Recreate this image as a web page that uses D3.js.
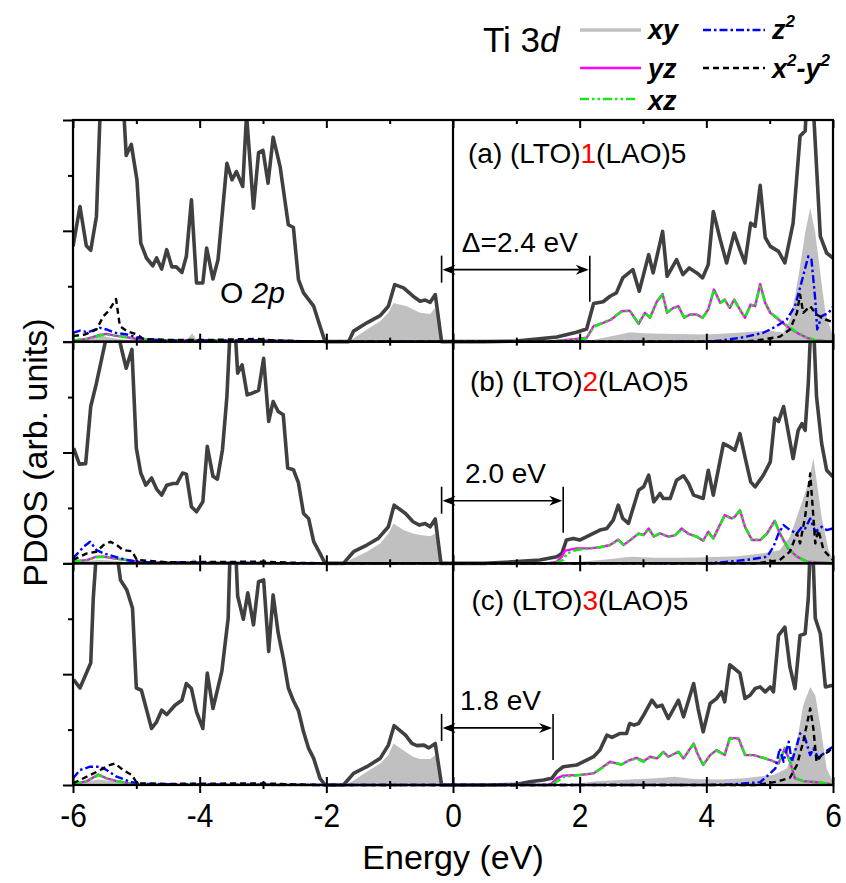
<!DOCTYPE html>
<html><head><meta charset="utf-8">
<script src="https://cdn.jsdelivr.net/npm/d3@7"></script>
<style>body{margin:0;background:#fff} svg{display:block} text{font-family:"Liberation Sans",Arial,Helvetica,sans-serif;fill:#000}</style>
</head><body><svg id="c" width="846" height="883"></svg>
<script>
// ---------------- data ----------------
const xTicks = [-6,-4,-2,0,2,4,6];
const xMinorTicks = [-5,-3,-1,1,3,5];
const yMajorTicks = [0,2,4];
const yMinorTicks = [1,3];
const panelTags = ["(a)","(b)","(c)"];
const layerCounts = ["1","2","3"];
const gapLabels = ["\u0394=2.4 eV","2.0 eV","1.8 eV"];
const gapStart = -0.18;
const gapEnd = [2.16, 1.74, 1.58];
const arrowLevel = [1.30, 1.13, 1.03];
const gapLabelE = [0.14, 0.19, 0.11];
const legendNames = ["xy","yz","xz","z2","x2-y2"];

const totA = [[-6.0,1.72],[-5.89,2.44],[-5.79,1.73],[-5.72,1.65],[-5.63,2.26],[-5.57,4.2],[-5.5,5.5],[-5.35,6.0],[-5.22,4.6],[-5.16,3.36],[-5.08,3.56],[-4.99,2.92],[-4.93,1.78],[-4.84,1.51],[-4.74,1.37],[-4.68,1.51],[-4.60,1.31],[-4.52,1.66],[-4.44,1.35],[-4.37,1.35],[-4.28,1.25],[-4.21,1.54],[-4.13,2.56],[-4.05,1.06],[-3.95,1.06],[-3.89,1.69],[-3.79,1.13],[-3.71,1.48],[-3.57,3.22],[-3.49,2.92],[-3.42,3.07],[-3.32,2.80],[-3.26,4.1],[-3.15,2.41],[-3.07,3.41],[-3.00,3.45],[-2.92,2.86],[-2.84,3.69],[-2.73,3.16],[-2.60,2.11],[-2.52,2.06],[-2.44,1.12],[-2.36,0.88],[-2.20,0.64],[-2.10,0.28],[-2.02,0],[-1.65,0],[-1.57,0.19],[-1.36,0.34],[-1.15,0.47],[-1.02,0.64],[-0.92,1.03],[-0.78,0.97],[-0.63,0.82],[-0.52,0.73],[-0.44,0.75],[-0.36,0.71],[-0.28,0.85],[-0.18,0],[0.5,0],[1.0,0.01],[1.64,0.085],[1.95,0.17],[2.11,0.23],[2.22,0.69],[2.37,0.72],[2.48,0.82],[2.58,0.88],[2.68,1.15],[2.84,1.30],[2.94,0.91],[3.09,1.57],[3.16,1.24],[3.31,1.99],[3.38,1.18],[3.53,1.48],[3.63,1.21],[3.73,1.33],[3.85,1.24],[3.94,1.15],[4.03,1.39],[4.11,2.35],[4.22,1.84],[4.32,1.42],[4.44,1.96],[4.53,1.66],[4.61,1.42],[4.70,2.14],[4.77,2.08],[4.85,2.82],[4.93,1.88],[5.01,1.72],[5.14,1.63],[5.24,1.42],[5.37,2.14],[5.48,3.71],[5.56,3.80],[5.60,4.6],[5.64,5.5],[5.70,4.0],[5.80,1.90],[5.90,1.60],[6.0,1.51]];
const xyA = [[-6,0.03],[-5.75,0.06],[-5.6,0.13],[-5.45,0.08],[-5.2,0.04],[-4.9,0.02],[-4.2,0.03],[-4.12,0.15],[-4.05,0.03],[-3.5,0.04],[-3.0,0.05],[-2.8,0.03],[-2.3,0.01],[-2.0,0],[-1.65,0],[-1.36,0.22],[-1.15,0.37],[-1.02,0.52],[-0.94,0.70],[-0.73,0.64],[-0.52,0.52],[-0.36,0.50],[-0.28,0.61],[-0.19,0],[1.5,0],[2.2,0.03],[2.5,0.1],[2.8,0.17],[3.0,0.15],[3.5,0.14],[4.0,0.13],[4.5,0.16],[5.0,0.2],[5.22,0.16],[5.32,0.40],[5.40,0.82],[5.48,1.36],[5.56,1.96],[5.64,2.41],[5.72,1.96],[5.80,1.24],[5.88,0.52],[5.98,0.16],[6.0,0.1]];
const yzA = [[-6,0.02],[-5.78,0.05],[-5.58,0.12],[-5.47,0.14],[-5.34,0.11],[-5.15,0.08],[-4.94,0.04],[-4.5,0.02],[-3.0,0.02],[-2.0,0],[1.5,0],[1.95,0.05],[2.11,0.07],[2.22,0.28],[2.37,0.34],[2.50,0.40],[2.66,0.55],[2.79,0.56],[2.93,0.32],[3.03,0.52],[3.11,0.43],[3.22,0.73],[3.31,0.86],[3.38,0.52],[3.48,0.61],[3.56,0.64],[3.65,0.43],[3.74,0.49],[3.85,0.49],[3.94,0.43],[4.03,0.58],[4.12,0.94],[4.22,0.70],[4.29,0.76],[4.37,0.61],[4.44,0.76],[4.53,0.58],[4.61,0.43],[4.70,0.67],[4.77,0.64],[4.85,1.04],[4.93,0.70],[5.01,0.52],[5.14,0.40],[5.27,0.28],[5.43,0.16],[5.59,0.07],[5.74,0.02],[6.0,0]];
const xzA = [[-6,0.02],[-5.78,0.05],[-5.58,0.11],[-5.47,0.13],[-5.34,0.11],[-5.15,0.08],[-4.94,0.04],[-4.5,0.02],[-3.0,0.02],[-2.0,0],[1.5,0],[1.95,0.04],[2.11,0.06],[2.22,0.27],[2.37,0.34],[2.50,0.41],[2.66,0.54],[2.79,0.56],[2.93,0.33],[3.03,0.52],[3.11,0.44],[3.22,0.72],[3.31,0.85],[3.38,0.53],[3.48,0.61],[3.56,0.63],[3.65,0.44],[3.74,0.49],[3.85,0.48],[3.94,0.43],[4.03,0.57],[4.12,0.93],[4.22,0.70],[4.29,0.75],[4.37,0.61],[4.44,0.75],[4.53,0.58],[4.61,0.44],[4.70,0.66],[4.77,0.64],[4.85,1.02],[4.93,0.70],[5.01,0.53],[5.14,0.41],[5.27,0.29],[5.43,0.17],[5.59,0.07],[5.74,0.02],[6.0,0]];
const z2A = [[-6,0.16],[-5.89,0.20],[-5.76,0.17],[-5.58,0.25],[-5.47,0.22],[-5.34,0.16],[-5.15,0.13],[-4.99,0.08],[-4.84,0.04],[-4.5,0.02],[-3,0.02],[-2,0],[4.0,0],[4.22,0.02],[4.59,0.08],[4.90,0.16],[5.11,0.28],[5.27,0.40],[5.40,0.64],[5.50,1.06],[5.61,1.54],[5.66,1.48],[5.72,0.76],[5.75,0.22],[5.82,0.46],[5.93,0.52],[6.0,0.63]];
const x2A = [[-6,0.10],[-5.81,0.13],[-5.63,0.22],[-5.52,0.46],[-5.44,0.55],[-5.39,0.64],[-5.32,0.77],[-5.26,0.28],[-5.15,0.19],[-4.99,0.13],[-4.89,0.05],[-4.5,0.03],[-3.9,0.03],[-3.5,0.04],[-3.1,0.05],[-2.9,0.03],[-2.5,0.01],[-2.0,0],[4.6,0],[4.90,0.04],[5.16,0.09],[5.32,0.22],[5.43,0.52],[5.48,0.85],[5.53,0.52],[5.64,0.64],[5.74,0.49],[5.88,0.40],[6.0,0.35]];

const totB = [[-5.99,2.08],[-5.90,1.79],[-5.80,1.80],[-5.72,2.83],[-5.63,3.25],[-5.54,3.73],[-5.47,4.1],[-5.38,4.6],[-5.28,4.1],[-5.23,3.85],[-5.16,3.52],[-5.07,3.86],[-5.0,2.08],[-4.93,1.63],[-4.85,1.41],[-4.76,1.54],[-4.68,1.34],[-4.60,1.23],[-4.52,1.41],[-4.42,1.44],[-4.36,1.44],[-4.27,1.63],[-4.21,1.61],[-4.13,1.02],[-4.05,0.93],[-3.95,1.11],[-3.88,2.11],[-3.79,1.57],[-3.72,1.52],[-3.64,2.05],[-3.57,3.01],[-3.52,4.2],[-3.48,5.0],[-3.44,4.2],[-3.40,3.43],[-3.33,3.58],[-3.25,3.04],[-3.17,3.07],[-3.07,3.12],[-2.99,3.70],[-2.91,2.56],[-2.84,2.92],[-2.76,2.74],[-2.68,2.68],[-2.61,1.72],[-2.52,1.69],[-2.44,1.45],[-2.36,0.90],[-2.28,0.81],[-2.20,0.39],[-2.10,0.18],[-2.02,0],[-1.73,0],[-1.57,0.21],[-1.36,0.33],[-1.18,0.45],[-1.02,0.66],[-0.93,1.05],[-0.75,0.90],[-0.63,0.75],[-0.53,0.69],[-0.44,0.72],[-0.36,0.66],[-0.28,0.80],[-0.19,0],[0.5,0],[1.0,0.03],[1.37,0.06],[1.64,0.12],[1.72,0.18],[1.79,0.42],[1.90,0.45],[2.00,0.42],[2.16,0.51],[2.32,0.60],[2.43,0.63],[2.53,0.78],[2.61,1.05],[2.68,0.81],[2.77,0.72],[2.93,1.32],[3.01,1.38],[3.09,1.59],[3.17,1.11],[3.27,1.26],[3.32,1.17],[3.43,1.17],[3.53,1.50],[3.64,1.58],[3.72,1.44],[3.80,1.23],[3.95,1.17],[4.03,1.68],[4.11,1.23],[4.27,2.16],[4.37,2.10],[4.45,2.04],[4.53,2.34],[4.61,1.92],[4.70,1.47],[4.77,1.38],[4.90,1.59],[5.01,1.83],[5.08,2.62],[5.14,2.56],[5.22,2.83],[5.37,1.89],[5.45,2.40],[5.51,2.52],[5.56,2.40],[5.61,3.25],[5.65,4.3],[5.70,4.1],[5.74,3.01],[5.82,2.17],[5.90,1.68],[6.0,1.56]];
const xyB = [[-6,0.02],[-5.8,0.04],[-5.6,0.06],[-5.4,0.05],[-5.2,0.03],[-4.9,0.01],[-4.15,0.02],[-4.1,0.08],[-4.0,0.02],[-3.0,0.03],[-2.5,0.01],[-2.0,0],[-1.73,0],[-1.36,0.21],[-1.15,0.36],[-1.02,0.54],[-0.94,0.72],[-0.78,0.60],[-0.63,0.54],[-0.52,0.51],[-0.36,0.49],[-0.28,0.54],[-0.19,0],[1.6,0],[2.0,0.03],[2.5,0.08],[2.8,0.12],[3.2,0.1],[3.6,0.1],[4.0,0.11],[4.5,0.13],[4.9,0.18],[5.16,0.24],[5.32,0.48],[5.43,0.84],[5.53,1.17],[5.61,1.44],[5.69,1.90],[5.74,1.50],[5.82,0.84],[5.93,0.24],[6.0,0.06]];
const yzB = [[-6,0.03],[-5.78,0.06],[-5.63,0.12],[-5.52,0.12],[-5.36,0.09],[-5.15,0.06],[-4.94,0.02],[-4.0,0.01],[-2.0,0],[1.5,0],[1.64,0.03],[1.72,0.12],[1.77,0.23],[1.95,0.27],[2.16,0.27],[2.32,0.29],[2.48,0.33],[2.61,0.43],[2.69,0.33],[2.79,0.41],[2.93,0.54],[3.01,0.51],[3.09,0.63],[3.17,0.48],[3.27,0.54],[3.40,0.48],[3.51,0.51],[3.61,0.63],[3.72,0.53],[3.85,0.48],[3.95,0.41],[4.03,0.57],[4.11,0.45],[4.29,0.87],[4.40,0.81],[4.45,0.84],[4.53,0.96],[4.61,0.66],[4.72,0.42],[4.85,0.42],[4.96,0.54],[5.08,0.77],[5.16,0.54],[5.29,0.27],[5.43,0.12],[5.59,0.03],[6.0,0]];
const xzB = [[-6,0.03],[-5.78,0.06],[-5.63,0.11],[-5.52,0.12],[-5.36,0.09],[-5.15,0.06],[-4.94,0.02],[-4.0,0.01],[-2.0,0],[1.5,0],[1.64,0.02],[1.74,0.06],[1.80,0.18],[1.95,0.24],[2.16,0.27],[2.32,0.29],[2.48,0.33],[2.61,0.42],[2.69,0.34],[2.79,0.41],[2.93,0.53],[3.01,0.51],[3.09,0.62],[3.17,0.49],[3.27,0.54],[3.40,0.48],[3.51,0.51],[3.61,0.62],[3.72,0.53],[3.85,0.48],[3.95,0.41],[4.03,0.56],[4.11,0.45],[4.29,0.86],[4.40,0.81],[4.45,0.84],[4.53,0.95],[4.61,0.66],[4.72,0.43],[4.85,0.42],[4.96,0.54],[5.08,0.76],[5.16,0.55],[5.29,0.28],[5.43,0.12],[5.59,0.03],[6.0,0]];
const z2B = [[-6,0.09],[-5.83,0.30],[-5.73,0.39],[-5.63,0.24],[-5.52,0.18],[-5.34,0.12],[-5.15,0.06],[-4.94,0.02],[-4.0,0.01],[-2,0],[4.0,0],[4.37,0.03],[4.69,0.07],[4.96,0.12],[5.06,0.30],[5.14,0.54],[5.22,0.69],[5.32,0.60],[5.43,0.54],[5.51,0.66],[5.56,0.63],[5.64,0.81],[5.72,0.57],[5.82,0.66],[5.90,0.60],[6.0,0.63]];
const x2B = [[-6,0.06],[-5.78,0.18],[-5.63,0.21],[-5.52,0.33],[-5.41,0.39],[-5.31,0.33],[-5.21,0.24],[-5.07,0.22],[-4.99,0.06],[-4.5,0.02],[-3.0,0.03],[-2.5,0.01],[-2.0,0],[4.8,0],[5.16,0.06],[5.32,0.21],[5.43,0.54],[5.48,0.36],[5.56,0.84],[5.64,1.62],[5.69,0.84],[5.72,0.36],[5.77,0.60],[5.85,0.24],[6.0,0.06]];

const totC = [[-5.99,1.90],[-5.89,1.75],[-5.72,2.20],[-5.68,3.37],[-5.63,4.2],[-5.5,5.5],[-5.35,5.0],[-5.31,4.2],[-5.25,3.70],[-5.15,3.52],[-5.06,3.19],[-5.0,1.75],[-4.92,1.71],[-4.76,1.02],[-4.68,1.14],[-4.60,1.35],[-4.52,1.27],[-4.39,1.44],[-4.28,1.53],[-4.21,1.83],[-4.13,1.74],[-4.05,1.32],[-3.95,1.02],[-3.88,2.02],[-3.79,1.38],[-3.65,2.05],[-3.55,3.01],[-3.52,4.2],[-3.48,4.8],[-3.43,4.2],[-3.40,3.41],[-3.31,2.99],[-3.24,3.47],[-3.15,2.89],[-3.07,3.67],[-2.99,3.70],[-2.91,2.41],[-2.84,3.43],[-2.76,2.74],[-2.68,2.29],[-2.60,1.75],[-2.52,1.52],[-2.44,1.34],[-2.36,0.96],[-2.28,0.66],[-2.20,0.48],[-2.10,0.12],[-2.02,0],[-1.73,0],[-1.57,0.21],[-1.36,0.33],[-1.15,0.48],[-1.02,0.72],[-0.93,1.07],[-0.75,0.90],[-0.65,0.75],[-0.57,0.71],[-0.46,0.72],[-0.38,0.67],[-0.28,0.75],[-0.18,0],[0.5,0],[1.0,0.01],[1.21,0.06],[1.43,0.09],[1.56,0.12],[1.64,0.24],[1.74,0.33],[1.95,0.36],[2.11,0.45],[2.22,0.51],[2.32,0.63],[2.43,0.90],[2.51,0.86],[2.64,0.93],[2.74,0.93],[2.79,1.11],[2.86,1.08],[2.93,1.11],[3.01,1.26],[3.14,1.53],[3.22,1.41],[3.30,1.44],[3.40,1.20],[3.56,1.53],[3.64,1.23],[3.80,1.83],[3.87,1.38],[3.95,0.96],[4.06,1.47],[4.16,1.56],[4.24,1.68],[4.29,1.50],[4.37,2.17],[4.53,2.02],[4.61,1.56],[4.69,1.62],[4.77,1.74],[4.85,1.77],[4.93,1.68],[5.01,1.77],[5.06,1.68],[5.14,2.70],[5.24,2.85],[5.32,2.13],[5.40,1.74],[5.48,2.70],[5.56,2.73],[5.61,3.37],[5.64,4.3],[5.68,4.3],[5.72,3.01],[5.80,2.73],[5.88,1.77],[6.0,1.80]];
const xyC = [[-6,0.03],[-5.8,0.06],[-5.6,0.10],[-5.4,0.07],[-5.2,0.03],[-4.9,0.01],[-4.15,0.02],[-4.1,0.06],[-4.0,0.02],[-3.0,0.03],[-2.5,0.01],[-2.0,0],[-1.68,0],[-1.36,0.24],[-1.15,0.39],[-1.02,0.54],[-0.94,0.75],[-0.75,0.60],[-0.63,0.51],[-0.52,0.47],[-0.36,0.47],[-0.28,0.54],[-0.19,0],[1.6,0],[2.0,0.03],[2.3,0.07],[2.8,0.1],[3.2,0.12],[3.5,0.15],[3.8,0.11],[4.2,0.1],[4.6,0.12],[5.06,0.18],[5.27,0.30],[5.43,0.78],[5.53,1.44],[5.64,1.77],[5.72,1.62],[5.80,1.08],[5.90,0.30],[6.0,0.06]];
const yzC = [[-6,0.01],[-5.78,0.07],[-5.60,0.19],[-5.47,0.12],[-5.31,0.07],[-5.10,0.03],[-4.9,0.01],[-2,0],[1.5,0],[1.56,0.03],[1.64,0.12],[1.74,0.17],[2.0,0.18],[2.22,0.21],[2.37,0.33],[2.48,0.42],[2.58,0.39],[2.66,0.37],[2.79,0.45],[2.90,0.49],[3.01,0.43],[3.11,0.51],[3.22,0.48],[3.32,0.60],[3.40,0.51],[3.56,0.60],[3.64,0.48],[3.80,0.75],[3.87,0.54],[3.95,0.36],[4.06,0.54],[4.16,0.63],[4.29,0.54],[4.37,0.85],[4.51,0.84],[4.61,0.54],[4.74,0.54],[4.90,0.49],[5.01,0.45],[5.14,0.39],[5.24,0.66],[5.32,0.42],[5.40,0.12],[5.53,0.07],[5.74,0.05],[6.0,0.01]];
const xzC = [[-6,0.01],[-5.78,0.07],[-5.60,0.18],[-5.47,0.12],[-5.31,0.07],[-5.10,0.03],[-4.9,0.01],[-2,0],[1.5,0],[1.58,0.02],[1.66,0.08],[1.76,0.15],[2.0,0.18],[2.22,0.21],[2.37,0.32],[2.48,0.41],[2.58,0.39],[2.66,0.37],[2.79,0.45],[2.90,0.48],[3.01,0.42],[3.11,0.50],[3.22,0.48],[3.32,0.59],[3.40,0.51],[3.56,0.60],[3.64,0.48],[3.80,0.74],[3.87,0.54],[3.95,0.37],[4.06,0.54],[4.16,0.62],[4.29,0.54],[4.37,0.84],[4.51,0.83],[4.61,0.55],[4.74,0.54],[4.90,0.49],[5.01,0.45],[5.14,0.39],[5.24,0.67],[5.32,0.44],[5.40,0.13],[5.53,0.07],[5.74,0.05],[6.0,0.01]];
const z2C = [[-6,0.12],[-5.89,0.27],[-5.73,0.33],[-5.57,0.33],[-5.47,0.27],[-5.31,0.15],[-5.10,0.06],[-4.94,0.02],[-4.0,0.01],[-2,0],[4.0,0],[4.37,0.01],[4.85,0.05],[4.98,0.18],[5.09,0.30],[5.16,0.66],[5.22,0.42],[5.30,0.78],[5.35,0.42],[5.43,0.72],[5.48,0.93],[5.56,0.84],[5.64,0.54],[5.69,0.66],[5.77,0.48],[5.88,0.60],[6.0,0.69]];
const x2C = [[-6,0.03],[-5.78,0.15],[-5.57,0.27],[-5.44,0.35],[-5.34,0.39],[-5.21,0.27],[-5.07,0.18],[-4.99,0.03],[-4.5,0.02],[-3.0,0.03],[-2.5,0.01],[-2,0],[4.8,0],[5.11,0.06],[5.32,0.13],[5.43,0.36],[5.53,0.78],[5.64,1.38],[5.69,1.02],[5.74,0.42],[5.82,0.54],[5.93,0.60],[6.0,0.69]];

const panels = [
  {tot: totA, xy: xyA, yz: yzA, xz: xzA, z2: z2A, x2: x2A},
  {tot: totB, xy: xyB, yz: yzB, xz: xzB, z2: z2B, x2: x2B},
  {tot: totC, xy: xyC, yz: yzC, xz: xzC, z2: z2C, x2: x2C}
];

// ---------------- layout / style ----------------
const L = 73, R = 833, T = 120, B = 785;
const PH = (B - T) / 3;
const labelDy = [43, 49.5, 46.5];
const labelX = [468, 470, 471.5];
const sty = {
  tot: {stroke: "#404040", w: 3.6, dash: null},
  yz:  {stroke: "#ff00ff", w: 2.4, dash: null},
  xz:  {stroke: "#18e818", w: 2.6, dash: "9,3,2.5,3,2.5,3"},
  z2:  {stroke: "#0000ff", w: 2.4, dash: "8,3,2.5,3"},
  x2:  {stroke: "#000000", w: 2.4, dash: "6,4"}
};
const xyFill = "#c0c0c0";

const svg = d3.select("#c");
const x = d3.scaleLinear().domain([-6, 6]).range([L, R]);

function condense(sel, f) {
  sel.each(function() {
    const l = this.getComputedTextLength();
    this.setAttribute("textLength", l * f);
    this.setAttribute("lengthAdjust", "spacingAndGlyphs");
  });
}

const defs = svg.append("defs");

panels.forEach((p, i) => {
  const top = T + i * PH, bot = top + PH;
  const y = d3.scaleLinear().domain([0, 4]).range([bot, top]);
  defs.append("clipPath").attr("id", "clip" + i)
    .append("rect").attr("x", L).attr("y", top).attr("width", R - L).attr("height", PH + 2.5);
  const g = svg.append("g").attr("clip-path", `url(#clip${i})`);
  const line = d3.line().x(d => x(d[0])).y(d => y(d[1]));
  const area = d3.area().x(d => x(d[0])).y0(y(0)).y1(d => y(d[1]));

  g.append("path").datum(p.xy).attr("d", area).attr("fill", xyFill);
  ["tot", "yz", "xz", "z2", "x2"].forEach(k => {
    const s = sty[k];
    g.append("path").datum(p[k]).attr("d", line)
      .attr("fill", "none").attr("stroke", s.stroke).attr("stroke-width", s.w)
      .attr("stroke-linejoin", "round")
      .attr("stroke-dasharray", s.dash);
  });

  // left axis ticks
  const ya = svg.append("g").attr("transform", `translate(${L},0)`);
  ya.call(d3.axisLeft(y).tickValues(yMajorTicks).tickSize(10).tickFormat(""));
  ya.append("g").call(d3.axisLeft(y).tickValues(yMinorTicks).tickSize(5).tickFormat(""));
  ya.selectAll(".domain").remove();
  ya.selectAll("line").attr("stroke", "#000").attr("stroke-width", 2);

  // x ticks at the top of the panel (inward)
  const xt = svg.append("g").attr("transform", `translate(0,${top})`);
  xt.call(d3.axisBottom(x).tickValues(xTicks).tickSize(8).tickFormat(""));
  xt.append("g").call(d3.axisBottom(x).tickValues(xMinorTicks).tickSize(4).tickFormat(""));
  // x ticks at bottom of the panel (inward, up)
  const xb = svg.append("g").attr("transform", `translate(0,${bot})`);
  xb.call(d3.axisTop(x).tickValues(xTicks).tickSize(8).tickFormat(""));
  xb.append("g").call(d3.axisTop(x).tickValues(xMinorTicks).tickSize(4).tickFormat(""));
  [xt, xb].forEach(a => { a.selectAll(".domain").remove(); a.selectAll("line").attr("stroke", "#000").attr("stroke-width", 2); });

  // frame
  svg.append("rect").attr("x", L).attr("y", top).attr("width", R - L).attr("height", PH)
    .attr("fill", "none").attr("stroke", "#000").attr("stroke-width", 2.2);

  // panel label
  const t = svg.append("text").attr("x", labelX[i]).attr("y", top + labelDy[i]).attr("font-size", 28);
  t.append("tspan").text(panelTags[i] + " (LTO)");
  t.append("tspan").style("fill", "#ff0000").text(layerCounts[i]);
  t.append("tspan").text("(LAO)5");

  // gap annotation
  const ay = y(arrowLevel[i]);
  const x0 = x(gapStart), x1 = x(gapEnd[i]);
  const ann = svg.append("g").attr("stroke", "#000").attr("stroke-width", 1.6);
  ann.append("line").attr("x1", x0).attr("x2", x0).attr("y1", ay - 14).attr("y2", ay + 13);
  ann.append("line").attr("x1", x1).attr("x2", x1).attr("y1", ay - 14).attr("y2", ay + 32);
  ann.append("line").attr("x1", x0 + 4).attr("x2", x1 - 4).attr("y1", ay).attr("y2", ay);
  const head = (tx, dir) => `M${tx},${ay} L${tx - dir * 13},${ay - 5} L${tx - dir * 9},${ay} L${tx - dir * 13},${ay + 5} Z`;
  svg.append("path").attr("d", head(x0 + 1, -1)).attr("fill", "#000");
  svg.append("path").attr("d", head(x1 - 1, 1)).attr("fill", "#000");
  svg.append("text").attr("x", x(gapLabelE[i])).attr("y", ay - 18).attr("font-size", 28).text(gapLabels[i]);

  if (i === 0) {
    const o = svg.append("text").attr("x", x(-3.68)).attr("y", y(0.69)).attr("font-size", 30);
    o.append("tspan").text("O ");
    o.append("tspan").attr("font-style", "italic").text("2p");
  }
});

// Fermi level line at 0
svg.append("line").attr("x1", x(0)).attr("x2", x(0)).attr("y1", T).attr("y2", B)
  .attr("stroke", "#000").attr("stroke-width", 2.2);

// bottom axis: outward ticks and labels
const xax = svg.append("g").attr("transform", `translate(0,${B})`);
xax.call(d3.axisBottom(x).tickValues(xTicks).tickSize(8).tickPadding(10).tickFormat(d => d < 0 ? "-" + Math.abs(d) : String(d)));
xax.selectAll("text").attr("font-size", 34).attr("font-family", "Liberation Sans, Arial, sans-serif").attr("fill", "#000");
condense(xax.selectAll("text"), 0.88);
const xaxMinor = svg.append("g").attr("transform", `translate(0,${B})`);
xaxMinor.call(d3.axisBottom(x).tickValues(xMinorTicks).tickSize(4).tickFormat(""));
[xax, xaxMinor].forEach(a => { a.selectAll(".domain").remove(); a.selectAll("line").attr("stroke", "#000").attr("stroke-width", 2); });

// axis titles
svg.append("text").attr("x", x(0)).attr("y", 869).attr("text-anchor", "middle").attr("font-size", 34).text("Energy (eV)");
svg.append("text").attr("transform", `translate(47,${(T + B) / 2}) rotate(-90)`).attr("text-anchor", "middle")
  .attr("font-size", 34).text("PDOS (arb. units)");

// legend
const lg = svg.append("g");
const ti = lg.append("text").attr("x", 483).attr("y", 52).attr("font-size", 35);
ti.append("tspan").text("Ti 3");
ti.append("tspan").attr("font-style", "italic").text("d");
const legendItems = [
  {key: "xy", x1: 580, x2: 641, ly: 30, tx: 648, ty: 39},
  {key: "yz", x1: 580, x2: 641, ly: 68, tx: 648, ty: 78},
  {key: "xz", x1: 580, x2: 636, ly: 99, tx: 648, ty: 110},
  {key: "z2", x1: 703, x2: 765, ly: 30, tx: 772, ty: 39},
  {key: "x2", x1: 703, x2: 765, ly: 68, tx: 772, ty: 78}
];
legendItems.forEach((it, j) => {
  if (it.key === "xy") {
    lg.append("line").attr("x1", it.x1).attr("x2", it.x2).attr("y1", it.ly).attr("y2", it.ly)
      .attr("stroke", xyFill).attr("stroke-width", 3.5);
  } else {
    const s = sty[it.key];
    lg.append("line").attr("x1", it.x1).attr("x2", it.x2).attr("y1", it.ly).attr("y2", it.ly)
      .attr("stroke", s.stroke).attr("stroke-width", 2.6).attr("stroke-dasharray", s.dash);
  }
  const t = lg.append("text").attr("x", it.tx).attr("y", it.ty).attr("font-size", 27)
    .attr("font-weight", "bold").attr("font-style", "italic");
  const name = legendNames[j];
  if (name === "z2") {
    t.append("tspan").text("z");
    t.append("tspan").attr("font-size", 17).attr("dy", -12).text("2");
  } else if (name === "x2-y2") {
    t.append("tspan").text("x");
    t.append("tspan").attr("font-size", 17).attr("dy", -12).text("2");
    t.append("tspan").attr("dy", 12).text("-y");
    t.append("tspan").attr("font-size", 17).attr("dy", -12).text("2");
  } else {
    t.text(name);
  }
});
</script>
</body></html>
